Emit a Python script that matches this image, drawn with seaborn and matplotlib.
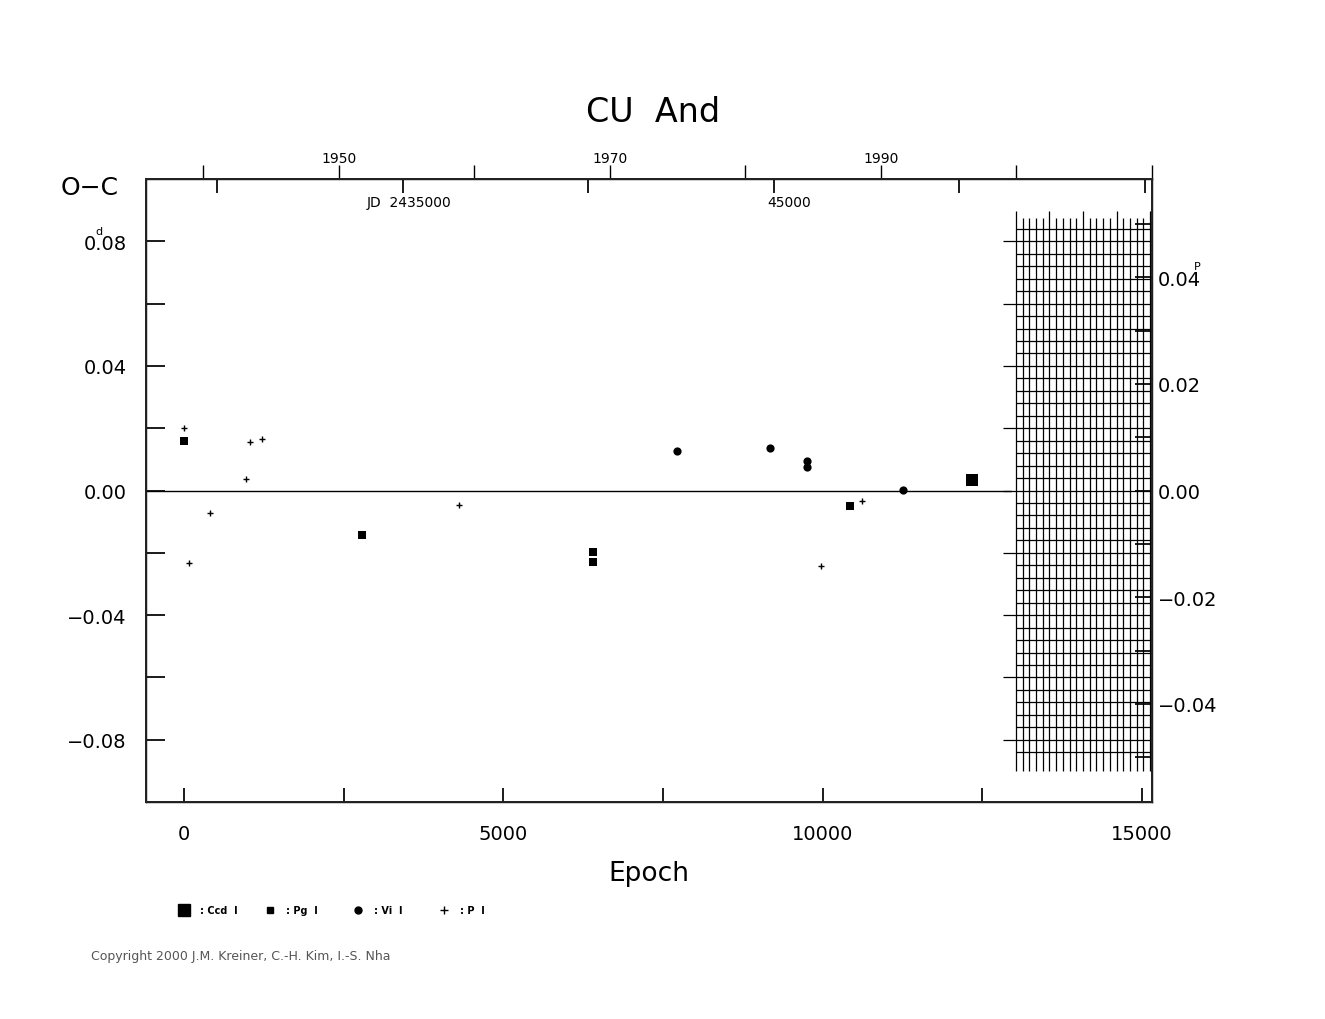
import numpy as np
import pandas as pd
import seaborn as sns
from matplotlib import pyplot as plt

# O-C data
ccd_epoch = [12338]
ccd_oc = [0.0035]
pg_epoch = [0, 2787, 6404, 6404, 10428]
pg_oc = [0.016, -0.0144, -0.0196, -0.0231, -0.0051]
vi_epoch = [7719, 9175, 9754, 9754, 11257]
vi_oc = [0.0128, 0.0138, 0.0096, 0.0077, 0.0003]
p_epoch = [0, 78, 407, 971, 1033, 1221, 4306, 9973, 10615]
p_oc = [0.0202, -0.0234, -0.0071, 0.0038, 0.0157, 0.0167, -0.0045, -0.0241, -0.0032]

period = 1.68
jd0 = 2429080.0

sns.set_theme(style="white")
plt.rcParams['font.family'] = ['DejaVu Sans']
plt.rcParams['text.color'] = 'black'
plt.rcParams['axes.labelcolor'] = 'black'
plt.rcParams['xtick.color'] = 'black'
plt.rcParams['ytick.color'] = 'black'

fig = plt.figure(figsize=(13.25, 10.2), dpi=100)
ax = fig.add_axes([0.1102, 0.2127, 0.7592, 0.6108])
for s in ax.spines.values():
    s.set_color("black")
    s.set_linewidth(1)

frames = [
    pd.DataFrame({"epoch": ccd_epoch, "oc": ccd_oc, "kind": "Ccd"}),
    pd.DataFrame({"epoch": pg_epoch, "oc": pg_oc, "kind": "Pg"}),
    pd.DataFrame({"epoch": vi_epoch, "oc": vi_oc, "kind": "Vi"}),
    pd.DataFrame({"epoch": p_epoch, "oc": p_oc, "kind": "P"}),
]
styles = {"Ccd": ("s", 70), "Pg": ("s", 35), "Vi": ("o", 35), "P": ("+", 25)}
for df in frames:
    k = df["kind"].iloc[0]
    m, sz = styles[k]
    sns.scatterplot(data=df, x="epoch", y="oc", ax=ax, marker=m, s=sz,
                    color="black", edgecolor="black", linewidth=1 if m == "+" else 0)

ax.axhline(0, color="black", lw=1, xmax=0.86)
ax.set_xlim(-595, 15157)
ax.set_ylim(-0.1, 0.1)

# hatched grid block on the right
gx = 13027 + 105 * np.arange(21)
tall = gx[::5]
short = np.setdiff1d(gx, tall)
ax.vlines(tall, -0.0901, 0.0898, color="black", lw=0.9)
ax.vlines(short, -0.0901, 0.0876, color="black", lw=0.9)
gy = 0.084 - 0.004 * np.arange(43)
ax.hlines(gy, 13027, 15125, color="black", lw=0.9)
ax.hlines(np.arange(-0.08, 0.081, 0.02), 12823, 13027, color="black", lw=0.9)

ax.set_xticks(np.arange(0, 15001, 2500))
ax.set_xticklabels(["0", "", "5000", "", "10000", "", "15000"])
ax.set_yticks(np.arange(-0.08, 0.081, 0.02))
ax.set_yticklabels(["\u22120.08", "", "\u22120.04", "", "0.00", "", "0.04", "", "0.08"])
ax.tick_params(axis="y", direction="in", length=14, labelsize=14, pad=14, left=True)
ax.tick_params(axis="x", direction="in", length=10, labelsize=14, pad=16, bottom=True)
ax.set_xlabel("Epoch", fontsize=19, labelpad=12)
ax.set_ylabel("")
ax.text(-0.085, 0.988, "O\u2212C", transform=ax.transAxes, fontsize=18, va="center")
ax.text(-0.05, 0.912, "d", transform=ax.transAxes, fontsize=8)

# right axis in phase units
axr = ax.twinx()
axr.set_ylim(-0.1 / 1.712, 0.1 / 1.712)
axr.set_yticks(np.arange(-0.05, 0.051, 0.01))
axr.set_yticklabels(["", "\u22120.04", "", "\u22120.02", "", "0.00", "", "0.02", "", "0.04", ""])
axr.tick_params(direction="in", length=12, labelsize=14, right=True, pad=4)
axr.text(1.042, 0.855, "P", transform=ax.transAxes, fontsize=8)
axr.grid(False)
for s in axr.spines.values():
    s.set_color("black")

# top axis: years and JD
axt = ax.twiny()
axt.set_xlim(ax.get_xlim())
jd_ticks = np.arange(2430000, 2455001, 5000)
jd_ep = (jd_ticks - jd0) / period
yr_ticks = np.arange(1940, 2011, 10)
yr_ep = ((yr_ticks - 1950.0) * 365.25 + 2433282.5 - jd0) / period
axt.set_xticks(list(jd_ep), minor=False)
axt.set_xticklabels([""] * len(jd_ep))
axt.tick_params(axis="x", which="major", direction="in", length=10)
axt.set_xticks(list(yr_ep), minor=True)
axt.set_xticklabels([str(y) if y in (1950, 1970, 1990) else "" for y in yr_ticks], minor=True)
axt.tick_params(axis="x", which="minor", direction="out", length=10, labelsize=10, top=True, pad=0)
for j, lab in [(2435000, "JD  2435000"), (2445000, "45000")]:
    axt.text((j - jd0) / period, 0.1 - 0.0075, lab, fontsize=10, ha="center", va="center",
             transform=ax.transData)
axt.grid(False)

fig.text(0.493, 0.88, "CU  And", fontsize=24, ha="center")

# legend row
leg_y = 0.107
items = [(0.139, "s", 8, ": Ccd  I"), (0.204, "s", 5, ": Pg  I"), (0.27, "o", 5, ": Vi  I"), (0.335, "+", 6, ": P  I")]
for x, m, ms, lab in items:
    fig.lines.append(plt.Line2D([x], [leg_y], marker=m, ms=ms, color="black", transform=fig.transFigure))
    fig.text(x + 0.012, leg_y, lab, fontsize=7, va="center", fontweight="bold")
fig.text(0.069, 0.059, "Copyright 2000 J.M. Kreiner, C.-H. Kim, I.-S. Nha", fontsize=9, color="#555555")

fig.savefig("out.png", dpi=100, facecolor="white")
